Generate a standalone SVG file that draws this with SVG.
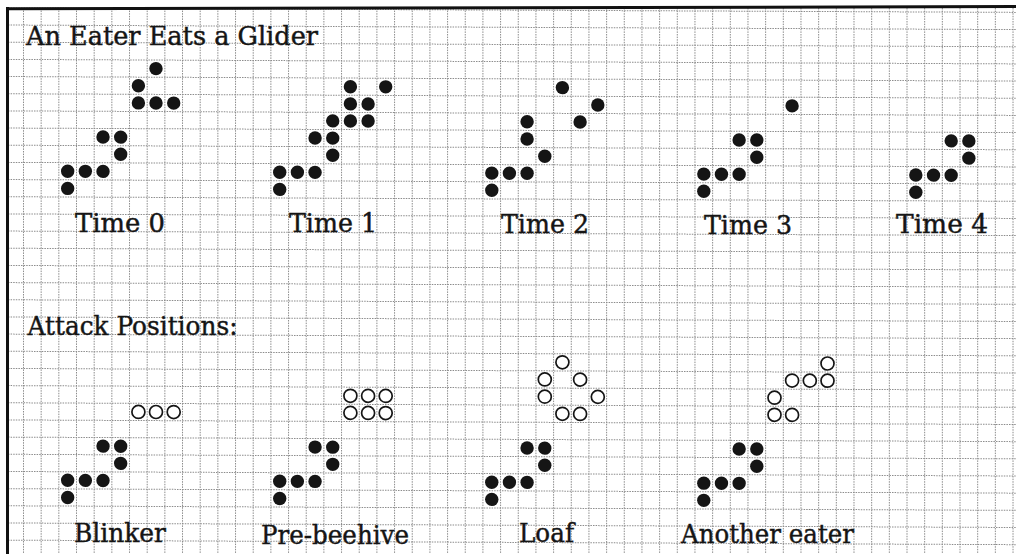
<svg xmlns="http://www.w3.org/2000/svg" xmlns:xlink="http://www.w3.org/1999/xlink" width="1016" height="554" viewBox="0 0 1016 554">
<style>
.g{fill:none;stroke:#8c8c8c;stroke-width:1;stroke-dasharray:1.5 1.1}
.b{fill:none;stroke:#111;stroke-width:3}
.f{fill:#151515}
.o{fill:#fff;stroke:#151515;stroke-width:1.7}
.t{font-family:"DejaVu Serif","Liberation Serif",serif;font-size:26px;fill:#151515;stroke:#151515;stroke-width:0.45}
</style>
<defs>
<g id="eater">
<circle class="f" cx="35.34" cy="0" r="6.7"/>
<circle class="f" cx="53.01" cy="0" r="6.7"/>
<circle class="f" cx="53.01" cy="17.17" r="6.7"/>
<circle class="f" cx="0" cy="34.34" r="6.7"/>
<circle class="f" cx="17.67" cy="34.34" r="6.7"/>
<circle class="f" cx="35.34" cy="34.34" r="6.7"/>
<circle class="f" cx="0" cy="51.51" r="6.7"/>
</g>
</defs>
<rect x="0" y="0" width="1016" height="554" fill="#fff"/>
<g id="grid">
<path class="g" d="M23.5 8V554M41.17 8V554M58.84 8V554M76.51 8V554M94.18 8V554M111.85 8V554M129.52 8V554M147.19 8V554M164.86 8V554M182.53 8V554M200.2 8V554M217.87 8V554M235.54 8V554M253.21 8V554M270.88 8V554M288.55 8V554M306.22 8V554M323.89 8V554M341.56 8V554M359.23 8V554M376.9 8V554M394.57 8V554M412.24 8V554M429.91 8V554M447.58 8V554M465.25 8V554M482.92 8V554M500.59 8V554M518.26 8V554M535.93 8V554M553.6 8V554M571.27 8V554M588.94 8V554M606.61 8V554M624.28 8V554M641.95 8V554M659.62 8V554M677.29 8V554M694.96 8V554M712.63 8V554M730.3 8V554M747.97 8V554M765.64 8V554M783.31 8V554M800.98 8V554M818.65 8V554M836.32 8V554M853.99 8V554M871.66 8V554M889.33 8V554M907 8V554M924.67 8V554M942.34 8V554M960.01 8V554M977.68 8V554M995.35 8V554M1013.02 8V554"/>
<path class="g" transform="matrix(1 0.0045 0 1 0 0)" d="M8 7.83H1016M8 25H1016M8 42.17H1016M8 59.34H1016M8 76.51H1016M8 93.68H1016M8 110.85H1016M8 128.02H1016M8 145.19H1016M8 162.36H1016M8 179.53H1016M8 196.7H1016M8 213.87H1016M8 231.04H1016M8 248.21H1016M8 265.38H1016M8 282.55H1016M8 299.72H1016M8 316.89H1016M8 334.06H1016M8 351.23H1016M8 368.4H1016M8 385.57H1016M8 402.74H1016M8 419.91H1016M8 437.08H1016M8 454.25H1016M8 471.42H1016M8 488.59H1016M8 505.76H1016M8 522.93H1016M8 540.1H1016"/>
<path class="b" d="M6 8.8L1016 6.6M7.5 7V554"/>
</g>
<g transform="matrix(1 0.0045 0 1 0 0)">
<g id="time0">
<use xlink:href="#eater" x="67.675" y="136.605"/>
<circle class="f" cx="156" cy="67.9" r="6.7"/>
<circle class="f" cx="138.4" cy="85.1" r="6.7"/>
<circle class="f" cx="138.4" cy="102.3" r="6.7"/>
<circle class="f" cx="156" cy="102.3" r="6.7"/>
<circle class="f" cx="173.7" cy="102.3" r="6.7"/>
</g>
<g id="time1">
<use xlink:href="#eater" x="279.715" y="136.605"/>
<circle class="f" cx="350.4" cy="85.1" r="6.7"/>
<circle class="f" cx="385.7" cy="85.1" r="6.7"/>
<circle class="f" cx="350.4" cy="102.3" r="6.7"/>
<circle class="f" cx="368.1" cy="102.3" r="6.7"/>
<circle class="f" cx="332.7" cy="119.4" r="6.7"/>
<circle class="f" cx="350.4" cy="119.4" r="6.7"/>
<circle class="f" cx="368.1" cy="119.4" r="6.7"/>
</g>
<g id="time2">
<circle class="f" cx="562.4" cy="85.1" r="6.7"/>
<circle class="f" cx="597.8" cy="102.3" r="6.7"/>
<circle class="f" cx="580.1" cy="119.4" r="6.7"/>
<circle class="f" cx="527.1" cy="119.4" r="6.7"/>
<circle class="f" cx="527.1" cy="136.6" r="6.7"/>
<circle class="f" cx="544.8" cy="153.8" r="6.7"/>
<circle class="f" cx="491.8" cy="170.9" r="6.7"/>
<circle class="f" cx="509.4" cy="170.9" r="6.7"/>
<circle class="f" cx="527.1" cy="170.9" r="6.7"/>
<circle class="f" cx="491.8" cy="188.1" r="6.7"/>
</g>
<g id="time3">
<use xlink:href="#eater" x="703.795" y="136.605"/>
<circle class="f" cx="792.1" cy="102.3" r="6.7"/>
</g>
<g id="time4">
<use xlink:href="#eater" x="915.835" y="136.605"/>
</g>
<g id="blinker">
<use xlink:href="#eater" x="67.675" y="445.665"/>
<circle class="o" cx="138.4" cy="411.3" r="6.5"/>
<circle class="o" cx="156" cy="411.3" r="6.5"/>
<circle class="o" cx="173.7" cy="411.3" r="6.5"/>
</g>
<g id="prebeehive">
<use xlink:href="#eater" x="279.715" y="445.665"/>
<circle class="o" cx="350.4" cy="394.2" r="6.5"/>
<circle class="o" cx="368.1" cy="394.2" r="6.5"/>
<circle class="o" cx="385.7" cy="394.2" r="6.5"/>
<circle class="o" cx="350.4" cy="411.3" r="6.5"/>
<circle class="o" cx="368.1" cy="411.3" r="6.5"/>
<circle class="o" cx="385.7" cy="411.3" r="6.5"/>
</g>
<g id="loaf">
<use xlink:href="#eater" x="491.755" y="445.665"/>
<circle class="o" cx="562.4" cy="359.8" r="6.5"/>
<circle class="o" cx="544.8" cy="377" r="6.5"/>
<circle class="o" cx="580.1" cy="377" r="6.5"/>
<circle class="o" cx="544.8" cy="394.2" r="6.5"/>
<circle class="o" cx="597.8" cy="394.2" r="6.5"/>
<circle class="o" cx="562.4" cy="411.3" r="6.5"/>
<circle class="o" cx="580.1" cy="411.3" r="6.5"/>
</g>
<g id="anothereater">
<use xlink:href="#eater" x="703.795" y="445.665"/>
<circle class="o" cx="827.5" cy="359.8" r="6.5"/>
<circle class="o" cx="792.1" cy="377" r="6.5"/>
<circle class="o" cx="809.8" cy="377" r="6.5"/>
<circle class="o" cx="827.5" cy="377" r="6.5"/>
<circle class="o" cx="774.5" cy="394.2" r="6.5"/>
<circle class="o" cx="774.5" cy="411.3" r="6.5"/>
<circle class="o" cx="792.1" cy="411.3" r="6.5"/>
</g>
</g>
<g id="labels">
<text class="t" x="26" y="44.5" textLength="292" lengthAdjust="spacingAndGlyphs">An Eater Eats a Glider</text>
<text class="t" x="75" y="231.5" textLength="90" lengthAdjust="spacingAndGlyphs">Time 0</text>
<text class="t" x="289" y="231.5" textLength="88" lengthAdjust="spacingAndGlyphs">Time 1</text>
<text class="t" x="501" y="233" textLength="88" lengthAdjust="spacingAndGlyphs">Time 2</text>
<text class="t" x="704" y="234" textLength="88" lengthAdjust="spacingAndGlyphs">Time 3</text>
<text class="t" x="896" y="233" textLength="92" lengthAdjust="spacingAndGlyphs">Time 4</text>
<text class="t" x="27.5" y="334.5" textLength="210" lengthAdjust="spacingAndGlyphs">Attack Positions:</text>
<text class="t" x="74" y="542" textLength="92" lengthAdjust="spacingAndGlyphs">Blinker</text>
<text class="t" x="261" y="543.5" textLength="148" lengthAdjust="spacingAndGlyphs">Pre-beehive</text>
<text class="t" x="519" y="542" textLength="55" lengthAdjust="spacingAndGlyphs">Loaf</text>
<text class="t" x="681" y="543" textLength="173" lengthAdjust="spacingAndGlyphs">Another eater</text>
</g>
</svg>
